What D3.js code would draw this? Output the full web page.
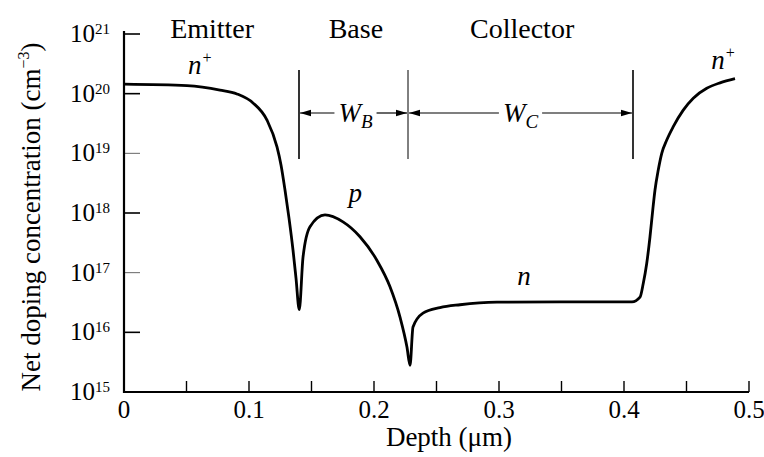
<!DOCTYPE html>
<html>
<head>
<meta charset="utf-8">
<script src="https://cdn.jsdelivr.net/npm/d3@7/dist/d3.min.js"></script>
<style>
  html, body { margin: 0; padding: 0; background: #fff; }
  svg { display: block; }
  text { font-family: "Liberation Serif", "Times New Roman", serif; fill: #000; }
</style>
</head>
<body>
<svg id="chart" width="764" height="457"></svg>
<script>
// ---- data ----
const depth = [0, 0.0504, 0.0768, 0.0904, 0.1032, 0.1144, 0.1224, 0.1256, 0.1288, 0.1320, 0.1352, 0.1376, 0.1402,
  0.1432, 0.1488, 0.1608, 0.1752, 0.1888, 0.2024, 0.2128, 0.2208, 0.2264, 0.2288,
  0.2312, 0.2392, 0.2528, 0.2688, 0.2984, 0.3488, 0.4064,
  0.4128, 0.4154, 0.4182, 0.4208, 0.4230, 0.4248, 0.4274, 0.4302, 0.4342, 0.4394, 0.4474, 0.4554, 0.4662, 0.4768, 0.4888];
const doping = [1.44e20, 1.36e20, 1.15e20, 9.9e19, 7.0e19, 3.6e19, 1.28e19, 6.4e18, 2.43e18, 8.2e17, 2.4e17, 8.1e16, 2.4e16,
  1.8e17, 5.9e17, 9.3e17, 7.1e17, 4.0e17, 1.6e17, 5.8e16, 1.8e16, 5.6e15, 2.8e15,
  1.23e16, 2.1e16, 2.6e16, 2.9e16, 3.2e16, 3.25e16, 3.25e16,
  3.9e16, 6.6e16, 1.44e17, 4.0e17, 1.12e18, 2.43e18, 5.25e18, 1.0e19, 1.67e19, 2.8e19, 5.3e19, 8.4e19, 1.23e20, 1.52e20, 1.78e20];
const xTicks = [0, 0.1, 0.2, 0.3, 0.4, 0.5];
const xMinorTicks = [0, 0.05, 0.1, 0.15, 0.2, 0.25, 0.3, 0.35, 0.4, 0.45, 0.5];
const yExponents = [15, 16, 17, 18, 19, 20, 21];
const regionNames = ["Emitter", "Base", "Collector"];
const regionCenters = [0.0705, 0.1855, 0.3185];
const boundaries = [0.14, 0.2272, 0.4072];
const widthLabels = [["W", "B"], ["W", "C"]];
const dopingLabels = [
  { text: "n", sup: "+", x: 0.061, y: 2.1e20 },
  { text: "p", sup: "", x: 0.185, y: 1.55e18 },
  { text: "n", sup: "", x: 0.32, y: 6.3e16 },
  { text: "n", sup: "+", x: 0.4795, y: 2.6e20 }
];
const xTitle = "Depth (μm)";
const yTitle = "Net doping concentration (cm";

// ---- layout ----
const svg = d3.select("#chart");
const x = d3.scaleLinear().domain([0, 0.5]).range([124, 749]);
const y = d3.scaleLog().domain([1e15, 1e21]).range([392, 34]);

// axes lines
svg.append("line").attr("x1", x(0)).attr("x2", x(0.5)).attr("y1", y(1e15)).attr("y2", y(1e15))
  .attr("stroke", "#000").attr("stroke-width", 2.2);
svg.append("line").attr("x1", x(0)).attr("x2", x(0)).attr("y1", y(1e15) + 1).attr("y2", 31)
  .attr("stroke", "#000").attr("stroke-width", 2.2);

// x ticks (inward)
svg.selectAll(".xt").data(xMinorTicks).enter().append("line")
  .attr("x1", d => x(d)).attr("x2", d => x(d))
  .attr("y1", y(1e15)).attr("y2", y(1e15) - 11)
  .attr("stroke", "#000").attr("stroke-width", 1.4);
svg.selectAll(".xl").data(xTicks).enter().append("text")
  .attr("x", d => x(d)).attr("y", 418)
  .attr("text-anchor", "middle").attr("font-size", 25)
  .text(d => d === 0 ? "0" : d3.format(".1f")(d));

// y ticks (inward)
svg.selectAll(".yt").data(yExponents).enter().append("line")
  .attr("x1", x(0)).attr("x2", x(0) + 16)
  .attr("y1", d => y(Math.pow(10, d))).attr("y2", d => y(Math.pow(10, d)))
  .attr("stroke", "#000").attr("stroke-width", d => (d === 17 || d === 19) ? 1 : 1.6)
  .attr("stroke-opacity", d => (d === 17 || d === 19) ? 0.6 : 1);
const yl = svg.selectAll(".yl").data(yExponents).enter().append("text")
  .attr("x", 110).attr("y", d => y(Math.pow(10, d)) + 8)
  .attr("text-anchor", "end").attr("font-size", 25);
yl.append("tspan").text("10");
yl.append("tspan").attr("font-size", 15).attr("dy", -8).text(d => d);

// axis titles
svg.append("text").attr("x", x(0.26)).attr("y", 446)
  .attr("text-anchor", "middle").attr("font-size", 27).text(xTitle);
const yt = svg.append("text").attr("transform", "translate(40,217) rotate(-90)")
  .attr("text-anchor", "middle").attr("font-size", 27);
yt.append("tspan").text(yTitle);
yt.append("tspan").attr("font-size", 16).attr("dy", -11).text("−3");
yt.append("tspan").attr("dy", 11).text(")");

// region names
svg.selectAll(".rn").data(regionNames).enter().append("text")
  .attr("x", (d, i) => x(regionCenters[i])).attr("y", 38)
  .attr("text-anchor", "middle").attr("font-size", 28).text(d => d);

// boundary lines
const bTop = 70, bBot = 159, arrowY = 113;
svg.selectAll(".bl").data(boundaries).enter().append("line")
  .attr("x1", d => x(d)).attr("x2", d => x(d)).attr("y1", bTop).attr("y2", bBot)
  .attr("stroke", "#000").attr("stroke-width", (d, i) => i === 1 ? 1 : 1.6);

// width labels with arrows
function arrowHead(xTip, dir) {
  const L = 11, H = 3.2;
  svg.append("path")
    .attr("d", `M${xTip},${arrowY} L${xTip - dir * L},${arrowY - H} L${xTip - dir * L},${arrowY + H} Z`)
    .attr("fill", "#000");
}
widthLabels.forEach((lab, i) => {
  const xl = x(boundaries[i]), xr = x(boundaries[i + 1]);
  const cx = (xl + xr) / 2 + (i === 0 ? 2 : 0);
  const t = svg.append("text").attr("x", cx).attr("y", 122)
    .attr("text-anchor", "middle").attr("font-size", 27).attr("font-style", "italic");
  t.append("tspan").text(lab[0]);
  t.append("tspan").attr("font-size", 19).attr("dy", 6).text(lab[1]);
  const w = t.node().getComputedTextLength();
  const gap = 4;
  svg.append("line").attr("x1", xl + 1).attr("x2", cx - w / 2 - gap).attr("y1", arrowY).attr("y2", arrowY)
    .attr("stroke", "#000").attr("stroke-width", 1.2);
  svg.append("line").attr("x1", cx + w / 2 + gap).attr("x2", xr - 1).attr("y1", arrowY).attr("y2", arrowY)
    .attr("stroke", "#000").attr("stroke-width", 1.2);
  arrowHead(xl + 1, -1);
  arrowHead(xr - 1, 1);
});

// doping curve
const pts = depth.map((d, i) => [d, doping[i]]);
const line = d3.line().x(d => x(d[0])).y(d => y(d[1])).curve(d3.curveMonotoneX);
svg.append("path").datum(pts).attr("d", line)
  .attr("fill", "none").attr("stroke", "#000").attr("stroke-width", 2.8)
  .attr("stroke-linejoin", "round");

// doping type labels
dopingLabels.forEach(l => {
  const t = svg.append("text").attr("x", x(l.x)).attr("y", y(l.y))
    .attr("text-anchor", "middle").attr("font-size", 27).attr("font-style", "italic");
  t.append("tspan").text(l.text);
  if (l.sup) t.append("tspan").attr("font-size", 16).attr("dy", -11).text(l.sup);
});
</script>
</body>
</html>
